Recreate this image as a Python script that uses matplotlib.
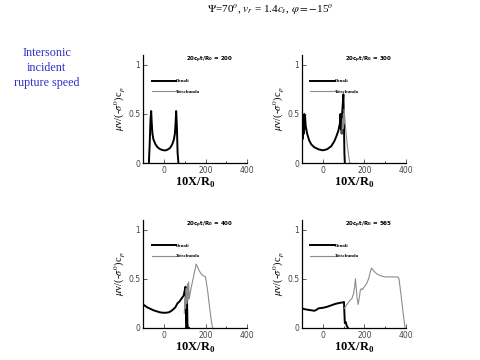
import numpy as np
import matplotlib.pyplot as plt

# curve data (x in 10X/R0, y in normalised slip rate)
t_labels = ['200', '300', '400', '565']

denali_x = [
    [-72, -68, -64, -61, -58, -55, -50, -40, -30, -20, -10, 0, 10, 20, 30, 40, 48, 53, 56, 59, 62, 66, 70],
    [-95, -93, -91, -89, -87, -85, -82, -75, -65, -55, -40, -20, 0, 20, 40, 55, 65, 75, 82, 85, 87, 89, 91, 93, 96, 99, 101, 104, 106],
    [-100, -90, -80, -65, -50, -35, -20, -5, 10, 25, 40, 55, 65, 75, 85, 95, 100, 104, 107, 109, 111, 113, 115, 117, 120],
    [-100, -85, -70, -55, -40, -30, -20, 0, 20, 40, 60, 80, 95, 102, 104, 106, 110, 114, 118, 121],
]
denali_y = [
    [0.0, 0.2, 0.45, 0.53, 0.4, 0.3, 0.24, 0.19, 0.16, 0.145, 0.135, 0.13, 0.13, 0.14, 0.155, 0.19, 0.24, 0.3, 0.4, 0.53, 0.4, 0.1, 0.0],
    [0.25, 0.45, 0.3, 0.5, 0.35, 0.48, 0.38, 0.3, 0.23, 0.19, 0.16, 0.14, 0.13, 0.14, 0.17, 0.22, 0.27, 0.33, 0.4, 0.5, 0.35, 0.48, 0.3, 0.5, 0.6, 0.7, 0.5, 0.1, 0.0],
    [0.24, 0.225, 0.21, 0.195, 0.18, 0.17, 0.16, 0.155, 0.155, 0.16, 0.18, 0.21, 0.25, 0.27, 0.3, 0.33, 0.38, 0.42, 0.1, 0.0, 0.3, 0.05, 0.0, 0.0, 0.0],
    [0.2, 0.19, 0.185, 0.18, 0.175, 0.185, 0.2, 0.205, 0.215, 0.23, 0.245, 0.255, 0.26, 0.265, 0.15, 0.05, 0.06, 0.03, 0.01, 0.0],
]

totschunda_x = [
    [],
    [92, 95, 97, 99, 101, 103, 105, 108, 112, 118, 124, 130],
    [98, 101, 104, 107, 110, 113, 116, 119, 122, 126, 132, 140, 148, 155, 162, 170, 180, 190, 200, 210, 220, 228, 234],
    [104, 110, 120, 130, 140, 148, 153, 157, 161, 165, 170, 175, 180, 185, 190, 200, 210, 220, 228, 234, 245, 260, 280, 300, 330, 360, 366, 375, 385, 395],
]
totschunda_y = [
    [],
    [0.3, 0.45, 0.35, 0.5, 0.4, 0.55, 0.48, 0.4, 0.3, 0.18, 0.08, 0.0],
    [0.15, 0.3, 0.2, 0.4, 0.25, 0.45, 0.28, 0.47, 0.3, 0.35, 0.42, 0.5, 0.58, 0.65, 0.62, 0.58, 0.55, 0.53, 0.52, 0.38, 0.2, 0.07, 0.0],
    [0.2, 0.22, 0.25, 0.28, 0.3, 0.35, 0.42, 0.5, 0.4, 0.3, 0.24, 0.3, 0.38, 0.4, 0.39, 0.42, 0.45, 0.5, 0.57, 0.61, 0.58, 0.55, 0.53, 0.52, 0.52, 0.52, 0.5, 0.35, 0.17, 0.0],
]

plt.rcParams['font.family'] = ['DejaVu Sans']
fig = plt.figure(figsize=(4.8, 3.6), dpi=100)

# axes rectangles in figure fractions
lefts = [0.298, 0.629, 0.298, 0.629]
bottoms = [0.547, 0.547, 0.089, 0.089]
w, h = 0.217, 0.30

serif = 'Liberation Serif'

fig.text(0.563, 0.972, r'$\Psi$=70$^o$, $v_r$ = 1.4$c_s$, $\varphi$$=-$15$^o$',
         ha='center', va='center', fontsize=8, family=serif,
         math_fontfamily='stix')
for i, line in enumerate(['Intersonic', 'incident', 'rupture speed']):
    fig.text(0.097, 0.852 - i * 0.041, line, ha='center', va='center',
             fontsize=8.7, color='#3030c8', family=serif)

for i in range(4):
    ax = fig.add_axes([lefts[i], bottoms[i], w, h])
    ax.plot(denali_x[i], denali_y[i], color='black', lw=1.4, label='Denali')
    ax.plot(totschunda_x[i], totschunda_y[i], color='#8c8c8c', lw=0.8, label='Totschunda')
    ax.set_xlim(-100, 400)
    ax.set_ylim(0, 1.1)
    ax.set_xticks([0, 200, 400])
    ax.set_xticks([100, 300], minor=True)
    ax.set_yticks([0, 0.5, 1])
    ax.set_yticklabels(['0', '0.5', '1'])
    ax.tick_params(direction='in', labelsize=5.5, length=3, width=0.6, pad=2,
                   colors='#444444')
    ax.tick_params(which='minor', direction='in', length=1.5, width=0.5)
    for s in ['top', 'right']:
        ax.spines[s].set_visible(False)
    for s in ['left', 'bottom']:
        ax.spines[s].set_linewidth(0.9)
    ax.set_xlabel(r'10X/R$_\mathregular{0}$', fontsize=9, fontweight='bold',
                  family=serif, labelpad=1)
    ax.set_ylabel(r'$\mu$v/(-$\sigma^0$)c$_p$', fontsize=7.5, family=serif,
                  labelpad=1, math_fontfamily='stix')
    ax.text(0.64, 0.955, r'20c$_\mathregular{p}$t/R$_\mathregular{0}$ = ' + t_labels[i],
            transform=ax.transAxes, ha='center', va='center', fontsize=4.0,
            fontweight='bold')
    leg = ax.legend(loc='upper left', bbox_to_anchor=(0.04, 0.82), frameon=False,
                    handlelength=5, handletextpad=0.1, labelspacing=1.2,
                    prop={'family': serif, 'weight': 'bold', 'size': 3.5})

fig.savefig('out.png', dpi=100, facecolor='white')
